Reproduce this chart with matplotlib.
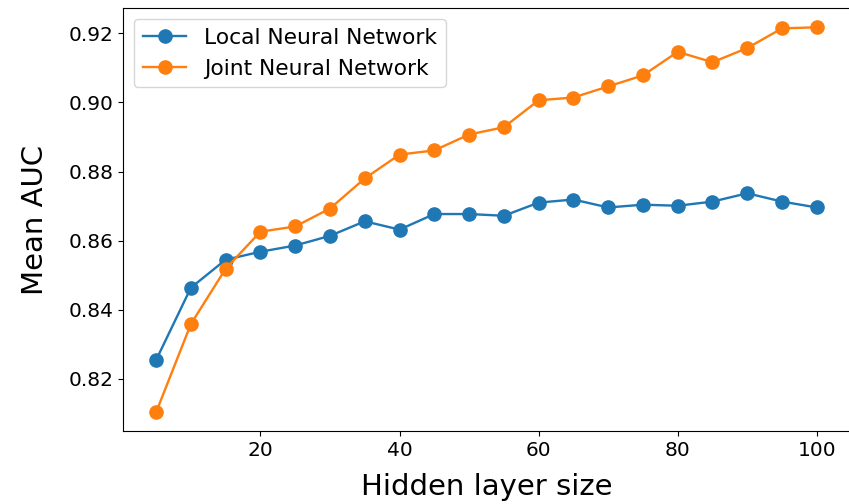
import matplotlib
matplotlib.use('Agg')
import matplotlib.pyplot as plt

hidden_sizes = [5, 10, 15, 20, 25, 30, 35, 40, 45, 50, 55, 60, 65, 70, 75, 80, 85, 90, 95, 100]
local_auc = [0.8255, 0.8464, 0.8545, 0.8568, 0.8586, 0.8614, 0.8656, 0.8632, 0.8677, 0.8677,
             0.8672, 0.8710, 0.8719, 0.8696, 0.8704, 0.8701, 0.8713, 0.8737, 0.8713, 0.8696]
joint_auc = [0.8104, 0.8359, 0.8519, 0.8626, 0.8641, 0.8693, 0.8780, 0.8849, 0.8861, 0.8907,
             0.8928, 0.9006, 0.9014, 0.9046, 0.9078, 0.9146, 0.9116, 0.9157, 0.9214, 0.9217]

fig = plt.figure(figsize=(8.49, 5.04), dpi=100)
ax = fig.add_axes([0.145, 0.144, 0.856, 0.840])

ax.plot(hidden_sizes, local_auc, marker='o', markersize=9.5, linewidth=1.7, label='Local Neural Network')
ax.plot(hidden_sizes, joint_auc, marker='o', markersize=9.5, linewidth=1.7, label='Joint Neural Network')

ax.set_xlabel('Hidden layer size', fontsize=21, labelpad=9)
ax.set_ylabel('Mean AUC', fontsize=21, labelpad=14)
ax.tick_params(labelsize=14.5)
ax.set_yticks([0.82, 0.84, 0.86, 0.88, 0.90, 0.92])
ax.legend(fontsize=15.7, loc='upper left')

fig.savefig('out.png', dpi=100)
